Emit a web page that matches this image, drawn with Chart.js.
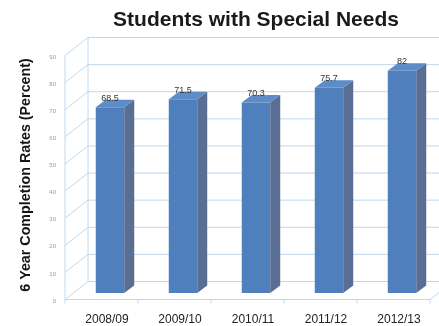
<!DOCTYPE html>
<html>
<head>
<meta charset="utf-8">
<script src="https://cdn.jsdelivr.net/npm/chart.js@4/dist/chart.umd.min.js"></script>
<style>
  html, body { margin: 0; padding: 0; background: #fff; }
  #wrap { width: 439px; height: 326px; position: relative; }
</style>
</head>
<body>
<div id="wrap"><canvas id="c"></canvas></div>
<script>
const categories = ['2008/09', '2009/10', '2010/11', '2011/12', '2012/13'];
const completionRates = [68.5, 71.5, 70.3, 75.7, 82];
const yTicks = [0, 10, 20, 30, 40, 50, 60, 70, 80, 90];
const chartTitle = 'Students with Special Needs';
const yAxisTitle = '6 Year Completion Rates (Percent)';

const FONT = '"Liberation Sans", Arial, Helvetica, sans-serif';

// perspective offsets of the front edge, the back wall and the bar depth
// relative to the plane the bars' front faces sit in
const FRONT = { dx: -8.5, dy: 6.5 };
const BACK = { dx: 14.5, dy: -11.5 };
const DEPTH = { dx: 10, dy: -7.5 };

const GRID = 'rgb(192,216,237)';
const BAR_FRONT = '#4f80bd';
const BAR_SIDE = '#5a6e94';
const BAR_TOP = '#5d8cc8';

const box3d = {
  id: 'box3d',
  beforeDatasetsDraw(chart) {
    const { ctx, chartArea: a, scales: { y } } = chart;
    ctx.save();
    ctx.strokeStyle = GRID;
    ctx.lineWidth = 1;
    const fx = a.left + FRONT.dx;
    const bx = a.left + BACK.dx;
    const rightEdge = chart.width + 2;
    // side wall + back wall grid lines
    yTicks.forEach(v => {
      const p = y.getPixelForValue(v);
      ctx.beginPath();
      ctx.moveTo(fx, p + FRONT.dy);
      ctx.lineTo(bx, p + BACK.dy);
      ctx.lineTo(rightEdge, p + BACK.dy);
      ctx.stroke();
    });
    const top = y.getPixelForValue(yTicks[yTicks.length - 1]);
    const bot = y.getPixelForValue(0);
    // wall edges
    ctx.beginPath();
    ctx.moveTo(fx, top + FRONT.dy);
    ctx.lineTo(fx, bot + FRONT.dy);
    ctx.moveTo(bx, top + BACK.dy);
    ctx.lineTo(bx, bot + BACK.dy);
    ctx.stroke();
    // floor front edge with category ticks
    const fr = a.right + FRONT.dx;
    ctx.beginPath();
    ctx.moveTo(fx, bot + FRONT.dy);
    ctx.lineTo(fr, bot + FRONT.dy);
    ctx.lineTo(a.right + BACK.dx, bot + BACK.dy);
    const n = categories.length;
    for (let i = 0; i <= n; i++) {
      const x = fx + (fr - fx) * i / n;
      ctx.moveTo(x, bot + FRONT.dy);
      ctx.lineTo(x, bot + FRONT.dy + 4);
    }
    ctx.stroke();
    // value axis tick labels on the front edge
    ctx.fillStyle = '#9a9a9a';
    ctx.font = '6px ' + FONT;
    ctx.textAlign = 'right';
    ctx.textBaseline = 'middle';
    yTicks.forEach(v => {
      const p = y.getPixelForValue(v);
      ctx.fillText(String(v), fx - 9, p + FRONT.dy + 1.5);
    });
    // value axis title
    ctx.fillStyle = '#151515';
    ctx.font = 'bold 14.3px ' + FONT;
    ctx.textAlign = 'center';
    ctx.translate(26, (top + bot) / 2 + 4);
    ctx.rotate(-Math.PI / 2);
    ctx.fillText(yAxisTitle, 0, 0);
    ctx.restore();
  },
  afterDatasetsDraw(chart) {
    const { ctx } = chart;
    const meta = chart.getDatasetMeta(0);
    ctx.save();
    meta.data.forEach((bar, i) => {
      const { x, y, base, width } = bar.getProps(['x', 'y', 'base', 'width'], true);
      const l = x - width / 2, r = x + width / 2;
      // side face
      ctx.fillStyle = BAR_SIDE;
      ctx.beginPath();
      ctx.moveTo(r, y);
      ctx.lineTo(r + DEPTH.dx, y + DEPTH.dy);
      ctx.lineTo(r + DEPTH.dx, base + DEPTH.dy);
      ctx.lineTo(r, base);
      ctx.closePath();
      ctx.fill();
      // top face
      ctx.fillStyle = BAR_TOP;
      ctx.beginPath();
      ctx.moveTo(l, y);
      ctx.lineTo(l + DEPTH.dx, y + DEPTH.dy);
      ctx.lineTo(r + DEPTH.dx, y + DEPTH.dy);
      ctx.lineTo(r, y);
      ctx.closePath();
      ctx.fill();
      // value label
      ctx.fillStyle = '#333';
      ctx.font = '9px ' + FONT;
      ctx.textAlign = 'center';
      ctx.textBaseline = 'middle';
      ctx.fillText(String(completionRates[i]), x, y - 9);
    });
    ctx.restore();
  }
};

new Chart(document.getElementById('c'), {
  type: 'bar',
  data: {
    labels: categories,
    datasets: [{
      data: completionRates,
      backgroundColor: BAR_FRONT,
      borderWidth: 0,
      categoryPercentage: 1,
      barPercentage: 0.39
    }]
  },
  options: {
    responsive: true,
    maintainAspectRatio: false,
    animation: false,
    layout: { padding: { left: 73.5, right: 0.5, top: 0, bottom: 0 } },
    plugins: {
      legend: { display: false },
      tooltip: { enabled: false },
      title: {
        display: true,
        text: chartTitle,
        fullSize: false,
        color: '#1a1a1a',
        font: { family: FONT, size: 21, weight: 'bold', lineHeight: 1.2 },
        padding: { top: 8, bottom: 15.8 }
      }
    },
    scales: {
      x: {
        grid: { display: false, drawTicks: true, tickLength: 21 },
        border: { display: false },
        ticks: {
          color: '#222',
          font: { family: FONT, size: 12, lineHeight: 1 },
          padding: 0,
          labelOffset: -3,
          maxRotation: 0
        }
      },
      y: {
        display: false,
        min: 0,
        max: 90
      }
    }
  },
  plugins: [box3d]
});
</script>
</body>
</html>
